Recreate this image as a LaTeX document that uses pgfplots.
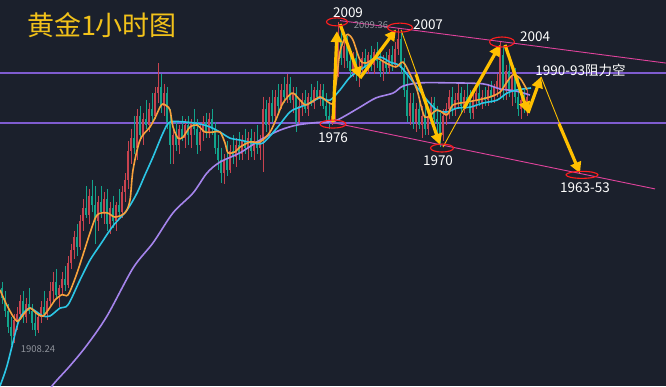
\documentclass[border=0pt]{standalone}
\usepackage{pgfplots}
\pgfplotsset{compat=1.18}
\usepackage{pgfplotstable}
\usepackage{fontspec}
\usetikzlibrary{arrows.meta}
\newfontfamily\cjk{Noto Sans CJK SC}
\definecolor{bg}{HTML}{1B202C}
\definecolor{cred}{HTML}{C8434F}
\definecolor{cgreen}{HTML}{12A48C}
\definecolor{maO}{HTML}{F7A23C}
\definecolor{maC}{HTML}{2CC6E6}
\definecolor{maP}{HTML}{A584EC}
\definecolor{hline}{HTML}{7F5CD0}
\definecolor{pinkl}{HTML}{E0439C}
\definecolor{ell}{HTML}{FF1E1E}
\definecolor{arr}{HTML}{FFC000}
\definecolor{titlec}{HTML}{F2C21A}
\definecolor{grayt}{HTML}{8E929A}

% up candles (red): x open high low close
\pgfplotstableread{
x o h l c
14 1911 1918 1909 1916
17 1916 1920 1913 1918
20 1918 1924 1916 1922
26 1917 1923 1915 1921
38 1913 1918 1912 1917
41 1917 1922 1915 1920
47 1918 1923 1916 1922
50 1922 1928 1920 1925
53 1925 1931 1922 1928
59 1924 1927 1920 1926
62 1926 1931 1924 1929
68 1927 1936 1926 1934
71 1934 1940 1932 1938
74 1938 1944 1935 1942
80 1939 1949 1938 1947
83 1947 1954 1944 1951
89 1949 1957 1946 1955
98 1947 1955 1944 1953
104 1950 1956 1946 1954
110 1946 1953 1943 1951
116 1947 1953 1944 1952
122 1950 1958 1948 1956
125 1956 1962 1953 1960
128 1960 1972 1957 1969
131 1969 1976 1965 1973
137 1970 1982 1966 1980
143 1974 1981 1971 1979
149 1977 1984 1975 1982
155 1980 1989 1979 1987
158 1987 1996.5 1984 1989
164 1983 1990 1980 1987
173 1971 1976 1965 1974
179 1971 1977 1968 1976
185 1973 1979 1970 1977
191 1974 1979 1970 1978
200 1971 1977 1969 1975
203 1975 1980 1972 1978
209 1975 1981 1973 1979
224 1962 1968 1958.5 1966
230 1963 1971 1962 1969
236 1967 1973 1964 1971
242 1968 1974 1966 1972
248 1970 1975 1966 1973
254 1969 1975 1966 1972
260 1970 1974 1966 1972
263 1972 1986 1962.4 1982
269 1977 1986 1975 1984
275 1980 1988 1979 1986
281 1983 1990 1982 1988
287 1986 1993 1984 1990
293 1985 1989 1981 1987
299 1978 1985 1977 1983
302 1983 1987 1980 1985
308 1982 1987 1980 1986
314 1984 1989 1982 1988
320 1986 1990 1983 1988
332 1978 1982 1977 1980
335 1980 1996 1978 1994
338 1994 2009.36 1992 2004
344 1998 2004 1995 2002
353 1994 2000 1992 1998
359 1993 1997 1989 1995
362 1995 2000 1992 1998
368 1995 2000 1993 1999
374 1996 2001 1993 2000
383 1994 1999 1991 1997
389 1995 2001 1993 1999
395 1996 2003 1995 2001
398 2001 2007.5 1999 2004
410 1980 1987 1977 1984
416 1978 1984 1975 1982
422 1977 1983 1973 1980
428 1976 1982 1974 1980
431 1980 1986 1978 1984
443 1974 1982 1972 1980
446 1980 1984 1977 1982
449 1982 1988 1979 1986
455 1982 1987 1980 1985
458 1985 1990 1982 1987
464 1983 1988 1981 1986
473 1981 1987 1979 1985
476 1985 1989 1982 1987
482 1984 1988 1982 1986
488 1985 1990 1983 1988
494 1986 1990 1984 1989
497 1989 1993 1986 1991
500 1988 2003.5 1986 1999
506 1988 1996 1985 1994
512 1988 1994 1983 1992
521 1982 1988 1979 1985
527 1983 1988 1980 1986
}\upcandles

% down candles (green): x open high low close
\pgfplotstableread{
x o h l c
2 1926 1928 1921 1923
5 1923 1925 1917 1919
8 1919 1921 1912 1914
11 1914 1917 1908.24 1911
23 1922 1925 1915 1917
29 1921 1926 1918 1919
32 1919 1921 1913 1915
35 1915 1919 1911 1913
44 1920 1925 1917 1918
56 1928 1932 1923 1924
65 1929 1933 1925 1927
77 1942 1946 1936 1939
86 1951 1958 1948 1949
92 1955 1960 1950 1952
95 1952 1958 1940 1947
101 1953 1958 1948 1950
107 1954 1957 1944 1946
113 1951 1955 1945 1947
119 1952 1957 1949 1950
134 1973 1980 1968 1970
140 1980 1983 1972 1974
146 1979 1985 1976 1977
152 1982 1987 1978 1980
161 1989 1993 1981 1983
167 1987 1989 1976 1978
170 1978 1982 1965 1971
176 1974 1978 1969 1971
182 1976 1980 1972 1973
188 1977 1980 1971 1974
194 1978 1982 1974 1976
197 1976 1979 1968 1971
206 1978 1981 1973 1975
212 1979 1982 1974 1976
215 1976 1978 1968 1970
218 1970 1974 1963 1966
221 1966 1970 1959 1962
227 1966 1972 1961 1963
233 1969 1974 1965 1967
239 1971 1975 1966 1968
245 1972 1976 1968 1970
251 1973 1976 1967 1969
257 1972 1977 1968 1970
266 1982 1985 1975 1977
272 1984 1988 1978 1980
278 1986 1990 1981 1983
284 1988 1992 1984 1986
290 1990 1992 1984 1985
296 1987 1989 1975 1978
305 1985 1988 1981 1982
311 1986 1990 1983 1984
317 1988 1991 1985 1986
323 1988 1990 1982 1983
326 1983 1987 1978 1980
329 1980 1984 1976 1978
341 2004 2007 1996 1998
347 2002 2005 1995 1997
350 1997 2001 1992 1994
356 1998 2001 1991 1993
365 1998 2001 1993 1995
371 1999 2002 1994 1996
377 2000 2003 1995 1997
380 1997 2001 1992 1994
386 1997 2000 1993 1995
392 1999 2002 1994 1996
401 2004 2006 1993 1995
404 1995 1998 1986 1988
407 1988 1993 1978 1980
413 1984 1987 1976 1978
419 1982 1985 1976 1977
425 1980 1983 1974 1976
434 1984 1986 1977 1979
437 1979 1983 1974 1978
440 1978 1981 1970.2 1974
452 1986 1989 1980 1982
461 1987 1989 1981 1983
467 1986 1990 1983 1984
470 1984 1988 1979 1981
479 1987 1990 1983 1984
485 1986 1989 1983 1985
491 1988 1991 1984 1986
503 1999 2002 1985 1988
509 1994 1997 1986 1988
515 1992 1995 1984 1986
518 1986 1992 1980 1982
524 1985 1988 1981 1983
}\downcandles

\pgfplotsset{candle/.style={draw=none, mark=none, forget plot,
  error bars/.cd, y dir=minus, y explicit, error mark=none}}

\begin{document}
\begin{tikzpicture}
\fill[bg] (0,0) rectangle (666pt,386pt);
\begin{axis}[
  at={(0pt,0pt)}, anchor=south west,
  scale only axis, width=666pt, height=386pt,
  xmin=0, xmax=666, ymin=1895.39, ymax=2016.25,
  hide axis, clip=true,
]
% horizontal resistance / support lines
\addplot[hline, line width=1.3pt] coordinates {(0,1993.35) (666,1993.35)};
\addplot[hline, line width=1.3pt] coordinates {(0,1977.7) (666,1977.7)};

% candles: wicks
\addplot[candle, error bar style={draw=cred, line width=0.7pt}]
  table[x=x, y=h, y error minus expr=\thisrow{h}-\thisrow{l}] {\upcandles};
\addplot[candle, error bar style={draw=cgreen, line width=0.7pt}]
  table[x=x, y=h, y error minus expr=\thisrow{h}-\thisrow{l}] {\downcandles};
% candles: bodies
\addplot[candle, error bar style={draw=cred, line width=2pt}]
  table[x=x, y=c, y error minus expr=\thisrow{c}-\thisrow{o}] {\upcandles};
\addplot[candle, error bar style={draw=cgreen, line width=2pt}]
  table[x=x, y=o, y error minus expr=\thisrow{o}-\thisrow{c}] {\downcandles};

% slow MA (purple)
\addplot[maP, line width=1.6pt, smooth] coordinates {
(45,1891) (52,1895.4) (70,1901.7) (87,1908.2) (107,1917.3) (133,1932.3) (153,1940.2)
(173,1949.6) (193,1955.8) (207,1962.1) (220,1965.5) (240,1968.4) (260,1972.4)
(280,1975.5) (297,1977.1) (317,1977.9) (333,1978.2) (343,1979.6) (360,1982.7)
(376,1985.6) (393,1987.1) (403,1989.3) (420,1990.3) (450,1990.3) (483,1990.0)
(500,1988.4) (515,1987.8) (530,1986.5)};
% medium MA (cyan)
\addplot[maC, line width=1.6pt, smooth] coordinates {
(0,1895.4) (7,1901.7) (18,1915.1) (24,1918.5) (30,1919.8) (37,1918.5) (43,1917.3)
(50,1917.3) (60,1919.8) (68,1920.8) (80,1928.6) (90,1934.8) (100,1939.5) (113,1945.5)
(127,1950.5) (137,1955.8) (145,1961.5) (153,1967.1) (163,1974.6) (170,1978.0)
(187,1978.0) (200,1977.4) (210,1976.5) (220,1974.9) (230,1973.0) (240,1972.4)
(253,1971.5) (263,1971.5) (277,1976.2) (290,1981.2) (300,1982.7) (310,1984.0)
(320,1985.6) (330,1984.9) (340,1988.1) (350,1992.1) (360,1994.3) (370,1996.5)
(380,1998.4) (390,1996.8) (400,1995.6) (413,1990.6) (427,1984.9) (437,1981.8)
(447,1981.2) (457,1982.4) (470,1982.7) (483,1984.0) (497,1984.9) (507,1987.1)
(517,1988.1) (531,1988.7)};
% fast MA (orange)
\addplot[maO, line width=1.6pt, smooth] coordinates {
(0,1925.5) (8,1920) (17,1915.7) (24,1918) (30,1919.8) (37,1918) (43,1917.3) (50,1920)
(55,1922.3) (62,1924) (68,1923.9) (75,1929) (82,1935.5) (90,1943.3) (97,1948.9)
(107,1949.6) (115,1948.3) (125,1949.6) (130,1953.6) (133,1963.0) (140,1972.4)
(150,1976.5) (155,1979.3) (160,1982.7) (163,1983.7) (167,1983) (170,1981.8)
(173,1976.5) (178,1973.0) (183,1973.3) (190,1976.5) (197,1977.1) (205,1974.9)
(213,1974.9) (220,1974.9) (225,1971.5) (228,1968.4) (235,1968.7) (240,1970.2)
(250,1971.8) (260,1971.8) (270,1974.9) (277,1979.6) (283,1984.0) (292,1987.1)
(298,1985.6) (305,1983.4) (310,1984.0) (320,1985.9) (328,1984.3) (333,1984.0)
(336,1990) (340,2000) (345,2004.5) (348,2005.5) (353,2003.7) (360,1997.5)
(366,1996.5) (376,1998.1) (386,1996.5) (396,1995.3) (403,1996.8) (410,1993)
(417,1988.1) (425,1979.6) (437,1981.8) (447,1980.3) (453,1983.4) (467,1984.3)
(477,1984.9) (490,1985.9) (500,1987.4) (507,1990.6) (513,1992.8) (520,1991.8)
(527,1988.1)};

% channel lines
\addplot[pinkl, line width=0.9pt] coordinates {(340,2009.8) (666,1996.5)};
\addplot[pinkl, line width=0.9pt] coordinates {(330,1978.05) (655,1957.1)};

% forecast / path arrows
\addplot[arr, line width=3.2pt, -{Triangle[length=11pt,width=11pt]}] coordinates {(333,1978.0) (337,2006.5)};
\addplot[arr, line width=3.2pt, -{Triangle[length=11pt,width=11pt]}] coordinates {(340,2008.7) (360,1991.8)};
\addplot[arr, line width=3.2pt, -{Triangle[length=11pt,width=11pt]}] coordinates {(360,1991.8) (396,2007.0)};
\addplot[arr, line width=0.9pt] coordinates {(401,2006.9) (418,1992)};
\addplot[arr, line width=3.2pt, -{Triangle[length=11pt,width=11pt]}] coordinates {(416,1993) (440,1970.9)};
\addplot[arr, line width=0.9pt] coordinates {(443,1970.2) (466,1983.4)};
\addplot[arr, line width=3.2pt, -{Triangle[length=11pt,width=11pt]}] coordinates {(464,1982.4) (500,2002.2)};
\addplot[arr, line width=3.2pt, -{Triangle[length=11pt,width=11pt]}] coordinates {(505,2002.2) (528,1980.9)};
\addplot[arr, line width=3.2pt, -{Triangle[length=11pt,width=11pt]}] coordinates {(528,1980.9) (541,1992.2)};
\addplot[arr, line width=0.9pt] coordinates {(541,1992.2) (561,1976.5)};
\addplot[arr, line width=3.2pt, -{Triangle[length=11pt,width=11pt]}] coordinates {(559,1977.5) (580,1962.0)};

% red ellipses
\draw[ell, line width=1.1pt] (axis cs:337,2009.4) ellipse [x radius=10.5pt, y radius=4pt];
\draw[ell, line width=1.1pt] (axis cs:400,2007.6) ellipse [x radius=12.5pt, y radius=4.5pt];
\draw[ell, line width=1.1pt] (axis cs:502,2003.1) ellipse [x radius=12.5pt, y radius=5pt];
\draw[ell, line width=1.1pt] (axis cs:442,1969.9) ellipse [x radius=11.5pt, y radius=4pt];
\draw[ell, line width=1.1pt] (axis cs:582,1961.5) ellipse [x radius=16pt, y radius=3.5pt];
\draw[ell, line width=1.1pt] (axis cs:333,1977.4) ellipse [x radius=13pt, y radius=4pt];

% labels
\node[text=titlec, font=\cjk\fontsize{27}{30}\selectfont] at (axis cs:102,2008.4) {黄金1小时图};
\node[text=white, font=\cjk\fontsize{13.5}{15}\selectfont] at (axis cs:348,2012.2) {2009};
\node[text=grayt, font=\cjk\fontsize{9.5}{11}\selectfont] at (axis cs:371,2008.4) {2009.36};
\node[text=white, font=\cjk\fontsize{13.5}{15}\selectfont] at (axis cs:428,2008.6) {2007};
\node[text=white, font=\cjk\fontsize{13.5}{15}\selectfont] at (axis cs:535,2004.8) {2004};
\node[text=white, font=\cjk\fontsize{13.5}{15}\selectfont] at (axis cs:580.5,1994.2) {1990-93阻力空};
\node[text=white, font=\cjk\fontsize{13.5}{15}\selectfont] at (axis cs:333,1973.0) {1976};
\node[text=white, font=\cjk\fontsize{13.5}{15}\selectfont] at (axis cs:438,1965.8) {1970};
\node[text=white, font=\cjk\fontsize{13.5}{15}\selectfont] at (axis cs:585,1957.5) {1963-53};
\node[text=grayt, font=\cjk\fontsize{9.5}{11}\selectfont] at (axis cs:38,1907.0) {1908.24};
\end{axis}
\end{tikzpicture}
\end{document}
